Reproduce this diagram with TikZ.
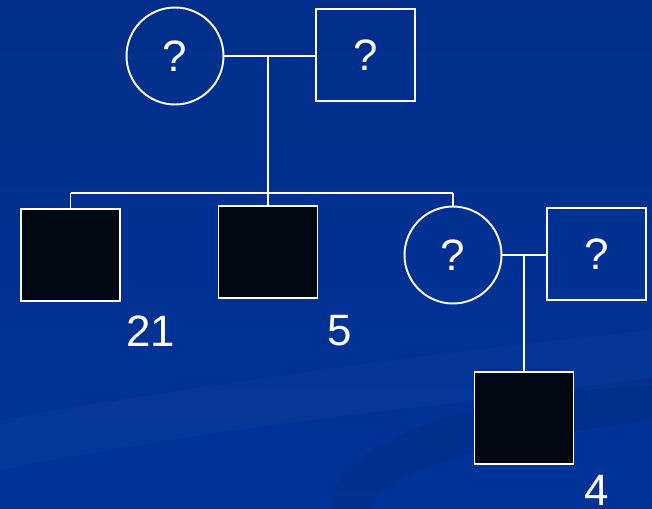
\documentclass[tikz,border=0pt]{standalone}
\usepackage{fontspec}
\setmainfont{Liberation Sans}
\usepackage{tikz}
\usetikzlibrary{positioning}
\definecolor{slideblue}{RGB}{0,51,153}
\definecolor{slidetop}{RGB}{0,46,138}
\definecolor{affblack}{RGB}{0,8,20}

\begin{document}
\begin{tikzpicture}[x=0.02cm, y=-0.02cm, male/.style={rectangle, draw=white, line width=1.1pt, minimum width=1.98cm, minimum height=1.84cm, inner sep=0pt, text=white, font=\fontsize{25}{25}\selectfont}, female/.style={circle, draw=white, line width=1.1pt, minimum size=1.94cm, inner sep=0pt, text=white, font=\fontsize{25}{25}\selectfont}, affected/.style={fill=affblack}, numlabel/.style={text=white, font=\fontsize{25}{25}\selectfont}, line/.style={draw=white, line width=1.1pt}]

    %Background
    \shade[top color=slidetop, bottom color=slideblue] (0,0) rectangle (652,508);
    \fill[white, opacity=0.02] (0,420) .. controls (200,385) and (450,350) .. (652,330) -- (652,385) .. controls (450,400) and (200,430) .. (0,470) -- cycle;
    \fill[black, opacity=0.06] (330,508) .. controls (340,430) and (500,395) .. (652,378) -- (652,420) .. controls (500,440) and (380,470) .. (372,508) -- cycle;
    \useasboundingbox (0,0) rectangle (652,508);

    %Nodes
    \node[female](mother) at (175,56){?};
    \node[male](father) at (365.5,55){?};
    \node[male, affected](son1) at (70.5,255){};
    \node[male, affected](son2) at (268,252){};
    \node[female](daughter) at (453,255){?};
    \node[male](partner) at (596.5,254){?};
    \node[male, affected](grandson) at (524,418){};
    \node[numlabel](label21) at (151,331){21};
    \node[numlabel](label5) at (340,331){5};
    \node[numlabel](label4) at (597,490){4};
    \coordinate (matetop) at (268,55);
    \coordinate (sibline) at (268,193);
    \coordinate (matelow) at (524,254);

    %Lines
    \draw[line] (mother.east) -- (father.west |- mother.east);
    \draw[line] (matetop) -- (sibline);
    \draw[line] (son1.north |- sibline) -- (daughter.north |- sibline);
    \draw[line] (son1.north |- sibline) -- (son1.north);
    \draw[line] (sibline) -- (son2.north);
    \draw[line] (daughter.north |- sibline) -- (daughter.north);
    \draw[line] (daughter.east) -- (partner.west |- daughter.east);
    \draw[line] (matelow) -- (grandson.north);

\end{tikzpicture}
\end{document}
